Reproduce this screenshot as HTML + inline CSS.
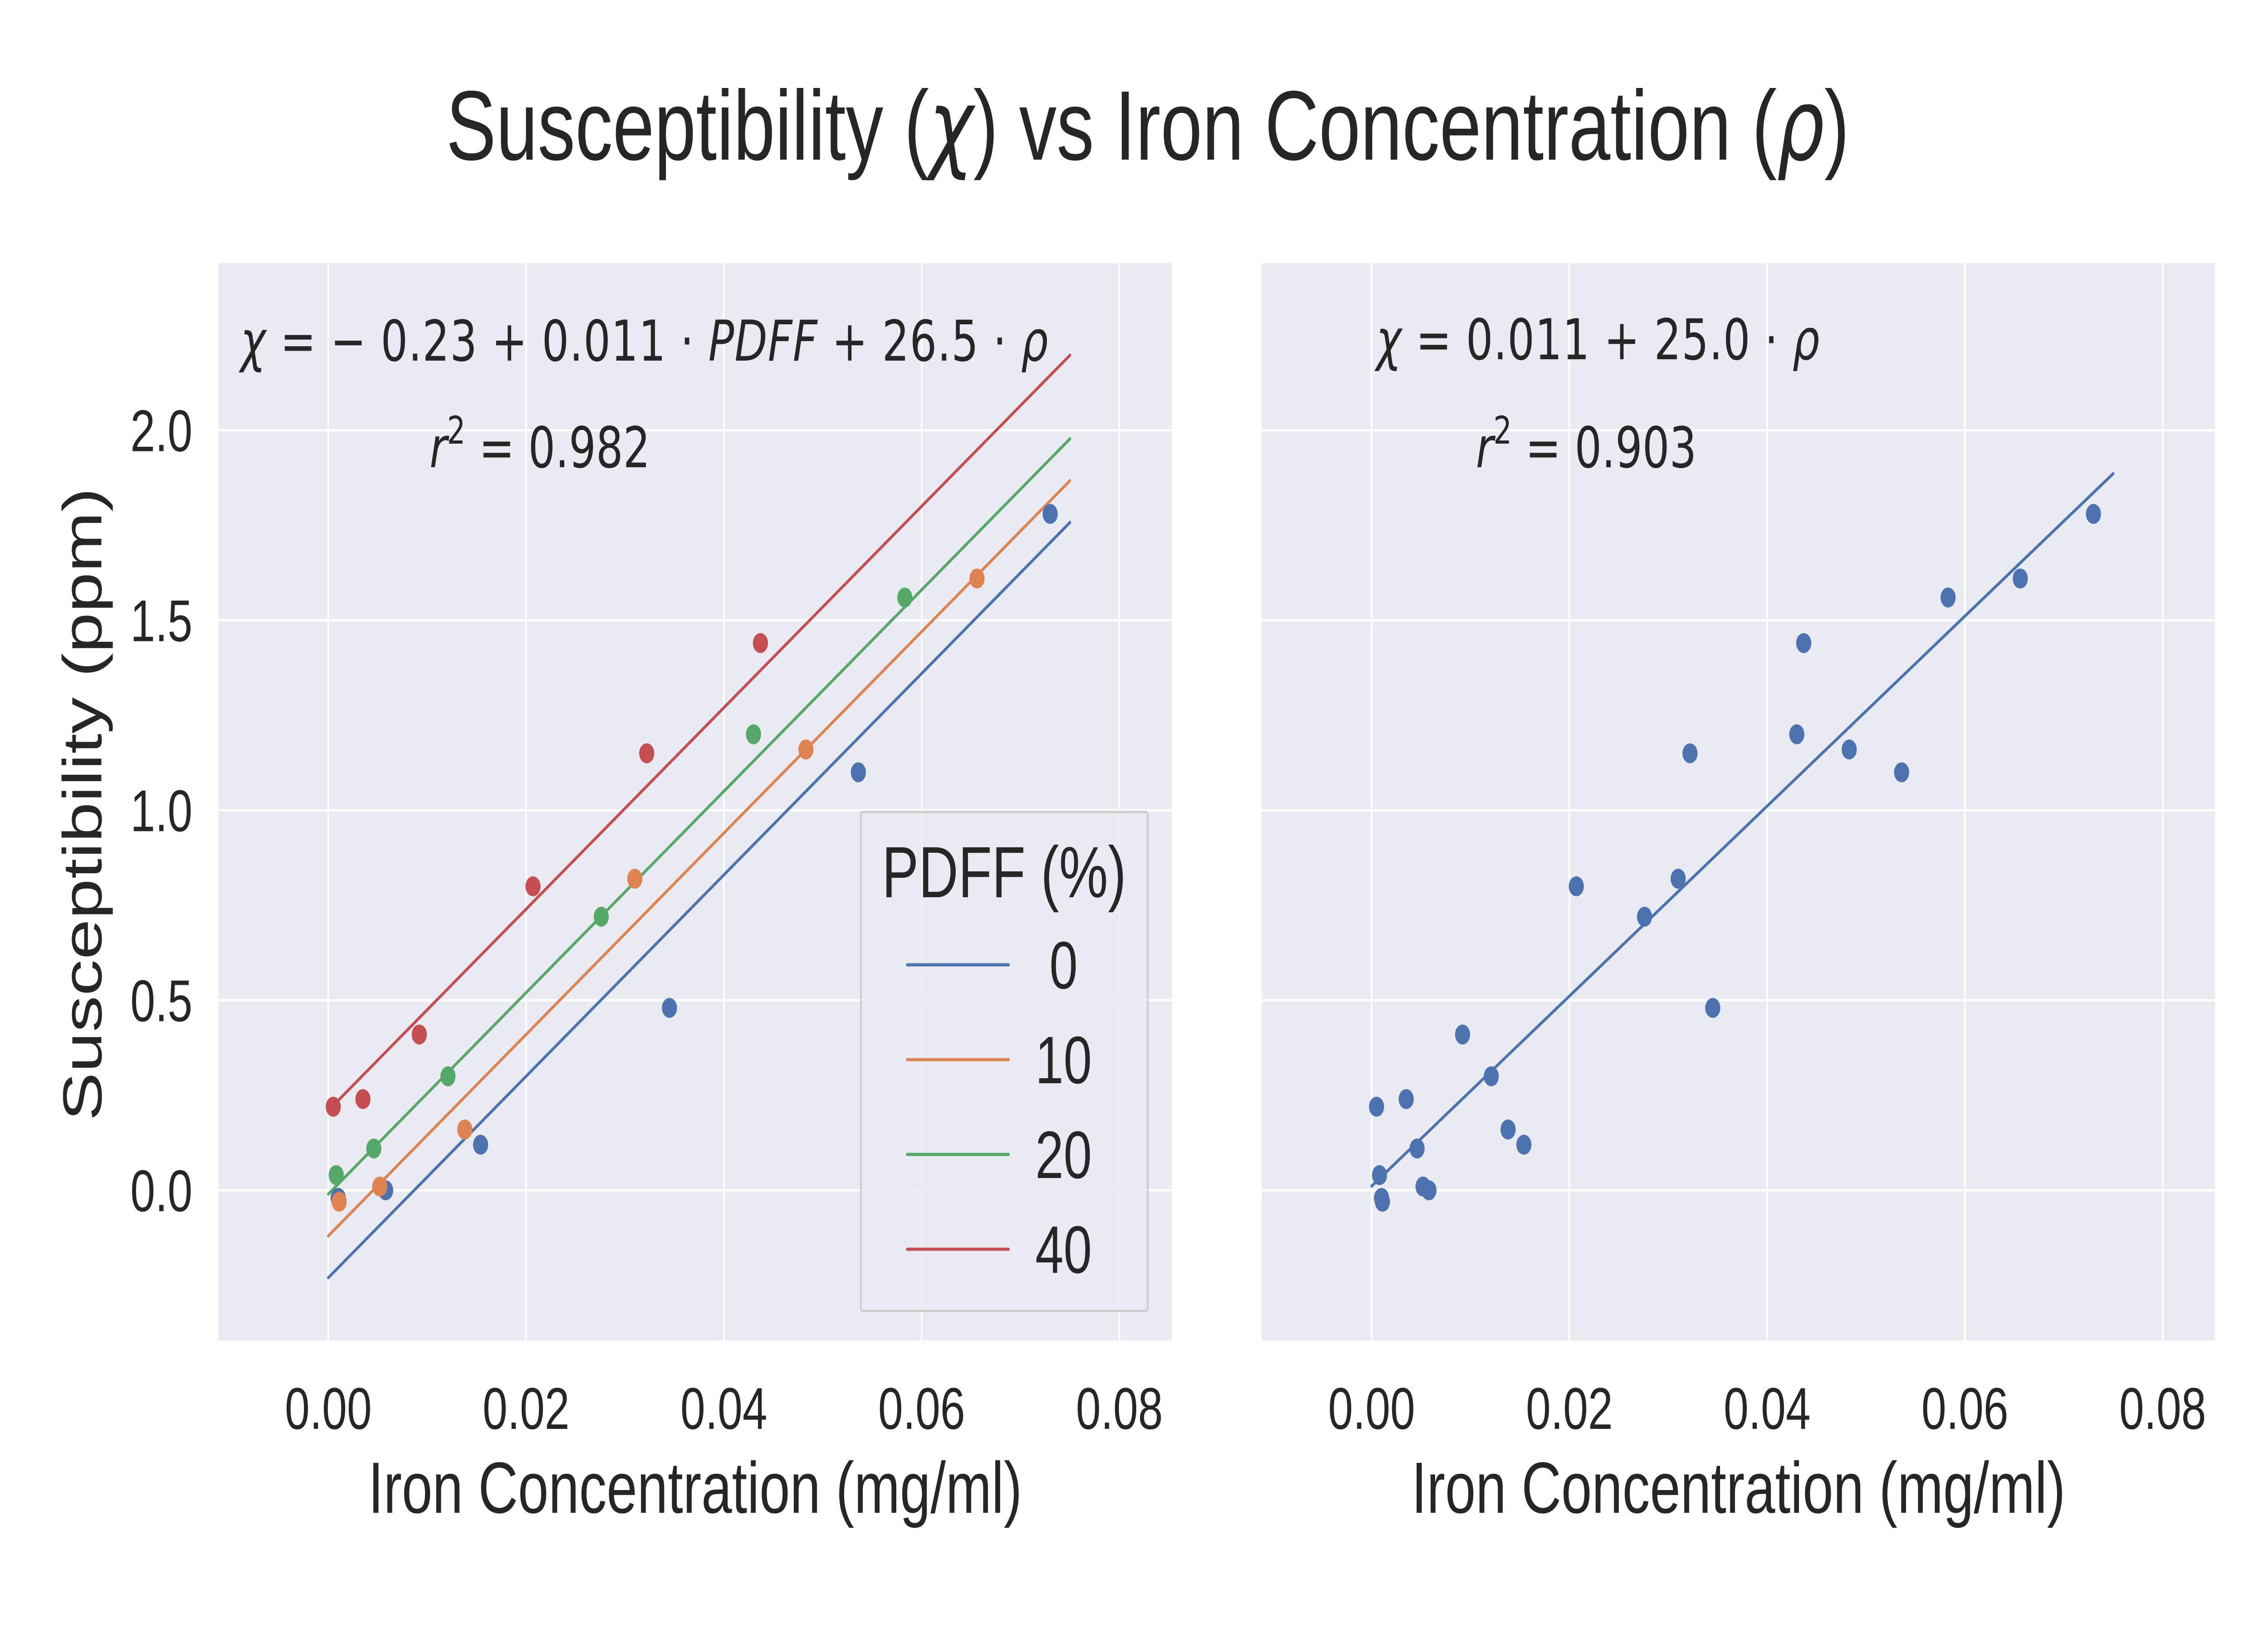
<!DOCTYPE html>
<html><head><meta charset="utf-8"><style>
html,body{margin:0;padding:0;background:#fff;overflow:hidden;width:100%;height:100%;}
svg{display:block;width:100vw;height:100vh;}
text{font-family:"Liberation Sans",sans-serif;fill:#262626;}
.m{font-family:"DejaVu Sans",sans-serif;}
</style></head><body>
<svg id="fig" viewBox="0 0 6600 3600" preserveAspectRatio="none" xmlns="http://www.w3.org/2000/svg">
<text x="3340" y="352" font-size="218" text-anchor="middle">Susceptibility (<tspan class="m" font-style="italic">χ</tspan>) vs Iron Concentration (<tspan class="m" font-style="italic">ρ</tspan>)</text>
<g id="left"></g>
<g id="right"></g>
</svg>
<script>
const groups = [0, 10, 20, 40];
const colors = ["#4c72b0", "#dd8452", "#55a868", "#c44e52"];
const xs0 = [0.0010, 0.0058, 0.0154, 0.0345, 0.0536, 0.0730];
const ys0 = [-0.02, 0.00, 0.12, 0.48, 1.10, 1.78];
const xs10 = [0.0011, 0.0052, 0.0138, 0.0310, 0.0483, 0.0656];
const ys10 = [-0.03, 0.01, 0.16, 0.82, 1.16, 1.61];
const xs20 = [0.0008, 0.0046, 0.0121, 0.0276, 0.0430, 0.0583];
const ys20 = [0.04, 0.11, 0.30, 0.72, 1.20, 1.56];
const xs40 = [0.0005, 0.0035, 0.0092, 0.0207, 0.0322, 0.0437];
const ys40 = [0.22, 0.24, 0.41, 0.80, 1.15, 1.44];
const fitIntercept = -0.23, fitPdff = 0.011, fitRho = 26.5;
const simpleIntercept = 0.011, simpleSlope = 25.0;
const xTicks = [0, 0.02, 0.04, 0.06, 0.08];
const xTickLabels = ["0.00", "0.02", "0.04", "0.06", "0.08"];
const yTicks = [0, 0.5, 1.0, 1.5, 2.0];
const yTickLabels = ["0.0", "0.5", "1.0", "1.5", "2.0"];

const NS = "http://www.w3.org/2000/svg";
const xsAll = [xs0, xs10, xs20, xs40], ysAll = [ys0, ys10, ys20, ys40];
function mk(tag, attrs, parent){const e=document.createElementNS(NS,tag);for(const k in attrs)e.setAttribute(k,attrs[k]);parent.appendChild(e);return e;}
const XMIN=-0.0111, XMAX=0.0853, YMIN=-0.395, YMAX=2.44;
const TOP=580, BOT=2955;
function makeAxes(g, left, right){
  const X=v=>left+(v-XMIN)/(XMAX-XMIN)*(right-left);
  const Y=v=>BOT-(v-YMIN)/(YMAX-YMIN)*(BOT-TOP);
  const bg=mk("rect",{x:left,y:TOP,width:right-left,height:BOT-TOP,fill:"#eaeaf2"},g);
  
  
  xTicks.forEach((t,i)=>{
    const l=mk("line",{x1:X(t),x2:X(t),y1:TOP,y2:BOT,stroke:"#fff","stroke-width":5},g);
    
    
    const tx=mk("text",{x:X(t),y:3150,"font-size":130,"text-anchor":"middle"},g);
    tx.textContent=xTickLabels[i];
    
    
  });
  yTicks.forEach((t,i)=>{
    const l=mk("line",{x1:left,x2:right,y1:Y(t),y2:Y(t),stroke:"#fff","stroke-width":5},g);
    
    
  });
  const xl=mk("text",{x:(left+right)/2,y:3335,"font-size":160,"text-anchor":"middle"},g);
  xl.textContent="Iron Concentration (mg/ml)";
  
  
  return {X,Y};
}
const gl=document.getElementById("left");
const A=makeAxes(gl,636,3410);
yTicks.forEach((t,i)=>{
  const tx=mk("text",{x:560,y:A.Y(t)+46,"font-size":130,"text-anchor":"end"},gl);
  tx.textContent=yTickLabels[i];
  
  
});
const yl=mk("text",{x:0,y:0,"font-size":160,"text-anchor":"middle",transform:"translate(295 1773) rotate(-90)"},gl);
yl.textContent="Susceptibility (ppm)";


groups.forEach((p,k)=>{
  const y0=fitIntercept+fitPdff*p, y1=fitIntercept+fitPdff*p+fitRho*0.075;
  const l=mk("line",{x1:A.X(0),y1:A.Y(y0),x2:A.X(0.075),y2:A.Y(y1),stroke:colors[k],"stroke-width":7,"stroke-linecap":"round"},gl);
  
  
});
groups.forEach((p,k)=>{
  xsAll[k].forEach((x,i)=>{
    const c=mk("circle",{cx:A.X(x),cy:A.Y(ysAll[k][i]),r:22,fill:colors[k]},gl);
    
    
  });
});
let eq=mk("text",{x:700,y:795,"font-size":124,"class":"m",textLength:2350},gl);
eq.innerHTML='<tspan font-style="italic">χ</tspan> = − 0.23 + 0.011 · <tspan font-style="italic">PDFF</tspan> + 26.5 · <tspan font-style="italic">ρ</tspan>';


let r2=mk("text",{x:1250,y:1030,"font-size":124,"class":"m"},gl);
r2.innerHTML='<tspan font-style="italic">r</tspan><tspan font-size="84" dy="-52">2</tspan><tspan dy="52"> = 0.982</tspan>';


const lg=mk("g",{},gl);


mk("rect",{x:2505,y:1790,width:835,height:1100,fill:"#eaeaf2","fill-opacity":0.8,stroke:"#cccccc","stroke-width":5,rx:6},lg);
const lt=mk("text",{x:2922,y:1978,"font-size":160,"text-anchor":"middle"},lg);
lt.textContent="PDFF (%)";


groups.forEach((p,k)=>{
  const yy=2127+k*209;
  const ln=mk("line",{x1:2640,x2:2935,y1:yy,y2:yy,stroke:colors[k],"stroke-width":7,"stroke-linecap":"round"},lg);
  
  
  const t=mk("text",{x:3095,y:yy+52,"font-size":148,"text-anchor":"middle"},lg);
  t.textContent=String(p);
  
  
});
const gr=document.getElementById("right");
const B=makeAxes(gr,3672,6446);
const ln2=mk("line",{x1:B.X(0),y1:B.Y(simpleIntercept),x2:B.X(0.075),y2:B.Y(simpleIntercept+simpleSlope*0.075),stroke:colors[0],"stroke-width":7,"stroke-linecap":"round"},gr);


groups.forEach((p,k)=>{
  xsAll[k].forEach((x,i)=>{
    const c=mk("circle",{cx:B.X(x),cy:B.Y(ysAll[k][i]),r:22,fill:colors[0]},gr);
    
    
  });
});
let eq2=mk("text",{x:4005,y:792,"font-size":124,"class":"m",textLength:1290},gr);
eq2.innerHTML='<tspan font-style="italic">χ</tspan> = 0.011 + 25.0 · <tspan font-style="italic">ρ</tspan>';


let r22=mk("text",{x:4295,y:1030,"font-size":124,"class":"m"},gr);
r22.innerHTML='<tspan font-style="italic">r</tspan><tspan font-size="84" dy="-52">2</tspan><tspan dy="52"> = 0.903</tspan>';


</script>
</body></html>
